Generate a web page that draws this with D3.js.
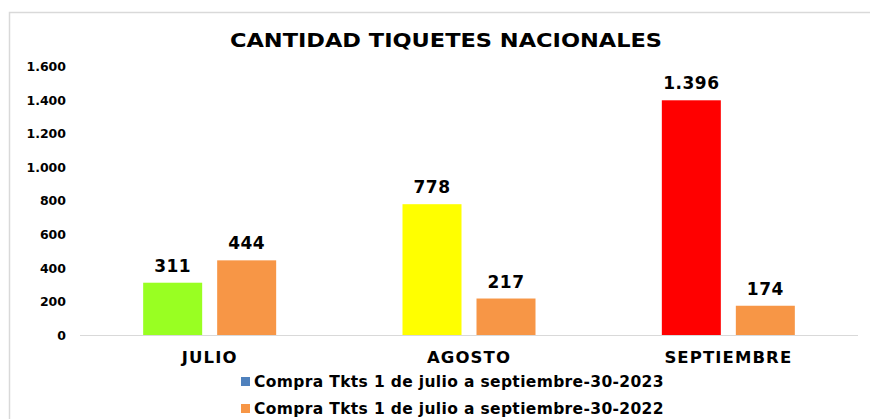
<!DOCTYPE html>
<html><head><meta charset="utf-8">
<script src="https://cdn.jsdelivr.net/npm/d3@7"></script>
<style>body{margin:0;background:#fff}svg{display:block;font-family:"DejaVu Sans",Verdana,sans-serif;font-weight:bold}</style>
</head><body><svg id="c" width="870" height="419"></svg>
<script>
const title = "CANTIDAD TIQUETES NACIONALES";
const categories = ["JULIO", "AGOSTO", "SEPTIEMBRE"];
const seriesNames = ["Compra Tkts 1 de julio a septiembre-30-2023", "Compra Tkts 1 de julio a septiembre-30-2022"];
const values2023 = [311, 778, 1396];
const values2022 = [444, 217, 174];
const colors2023 = ["#99FF22", "#FFFF00", "#FF0000"];
const color2022 = "#F79646";
const legendColors = ["#4F81BD", "#F79646"];
const yTicks = [0, 200, 400, 600, 800, 1000, 1200, 1400, 1600];

const svg = d3.select("#c");
const fmt = d3.formatLocale({decimal: ",", thousands: ".", grouping: [3], currency: ["", ""]}).format(",d");

// frame
svg.append("path").attr("d", "M9.5,419 V12.5 H870").attr("fill", "none").attr("stroke", "#d9d9d9").attr("stroke-width", 1.5);

const x = d3.scaleBand().domain(categories).range([80, 858]);
const y = d3.scaleLinear().domain([0, 1600]).range([335, 66]);
const inner = d3.scaleBand().domain([0, 1]).range([0, 133]).paddingInner(0.2027);

svg.append("text").attr("x", 446).attr("y", 47).attr("text-anchor", "middle")
  .attr("font-size", 20).attr("textLength", 432).attr("lengthAdjust", "spacingAndGlyphs").text(title);

// y axis labels
const yAxis = d3.axisLeft(y).tickValues(yTicks).tickFormat(fmt).tickSize(0).tickPadding(0);
const ga = svg.append("g").attr("transform", "translate(66,0)").call(yAxis);
ga.select(".domain").remove();
ga.selectAll("text").attr("font-size", 12.5).attr("font-family", "DejaVu Sans").attr("font-weight", "bold").attr("fill", "#000").attr("dy", "0.35em");

// baseline
svg.append("line").attr("x1", 80).attr("x2", 858).attr("y1", 335.5).attr("y2", 335.5).attr("stroke", "#d9d9d9").attr("stroke-width", 1.2);

const groups = svg.append("g").selectAll("g").data(categories).join("g")
  .attr("transform", d => `translate(${x(d) + x.bandwidth()/2 - 66.5},0)`);

const data = categories.map((c, i) => [
  {v: values2023[i], col: colors2023[i], s: 0},
  {v: values2022[i], col: color2022, s: 1}
]);

groups.each(function(c, i) {
  const g = d3.select(this);
  g.selectAll("rect").data(data[i]).join("rect")
    .attr("x", d => inner(d.s)).attr("width", inner.bandwidth())
    .attr("y", d => y(d.v)).attr("height", d => y(0) - y(d.v)).attr("fill", d => d.col);
  g.selectAll("text.v").data(data[i]).join("text").attr("class", "v")
    .attr("x", d => inner(d.s) + inner.bandwidth()/2).attr("y", d => y(d.v) - 11)
    .attr("text-anchor", "middle").attr("font-size", 17).attr("fill", "#000")
    .attr("letter-spacing", 0.5).text(d => fmt(d.v));
});

// category labels
svg.append("g").selectAll("text").data(categories).join("text")
  .attr("x", d => x(d) + x.bandwidth()/2).attr("y", 363).attr("text-anchor", "middle")
  .attr("font-size", 16.5).attr("letter-spacing", 1.1).attr("fill", "#000").text(d => d);

// legend
const lg = svg.append("g").selectAll("g").data(seriesNames).join("g")
  .attr("transform", (d, i) => `translate(241,${377 + i * 27})`);
lg.append("rect").attr("width", 9).attr("height", 9).attr("fill", (d, i) => legendColors[i]);
lg.append("text").attr("x", 13).attr("y", 9.5).attr("font-size", 15.5).attr("letter-spacing", 0.35).attr("fill", "#000").text(d => d);
</script></body></html>
